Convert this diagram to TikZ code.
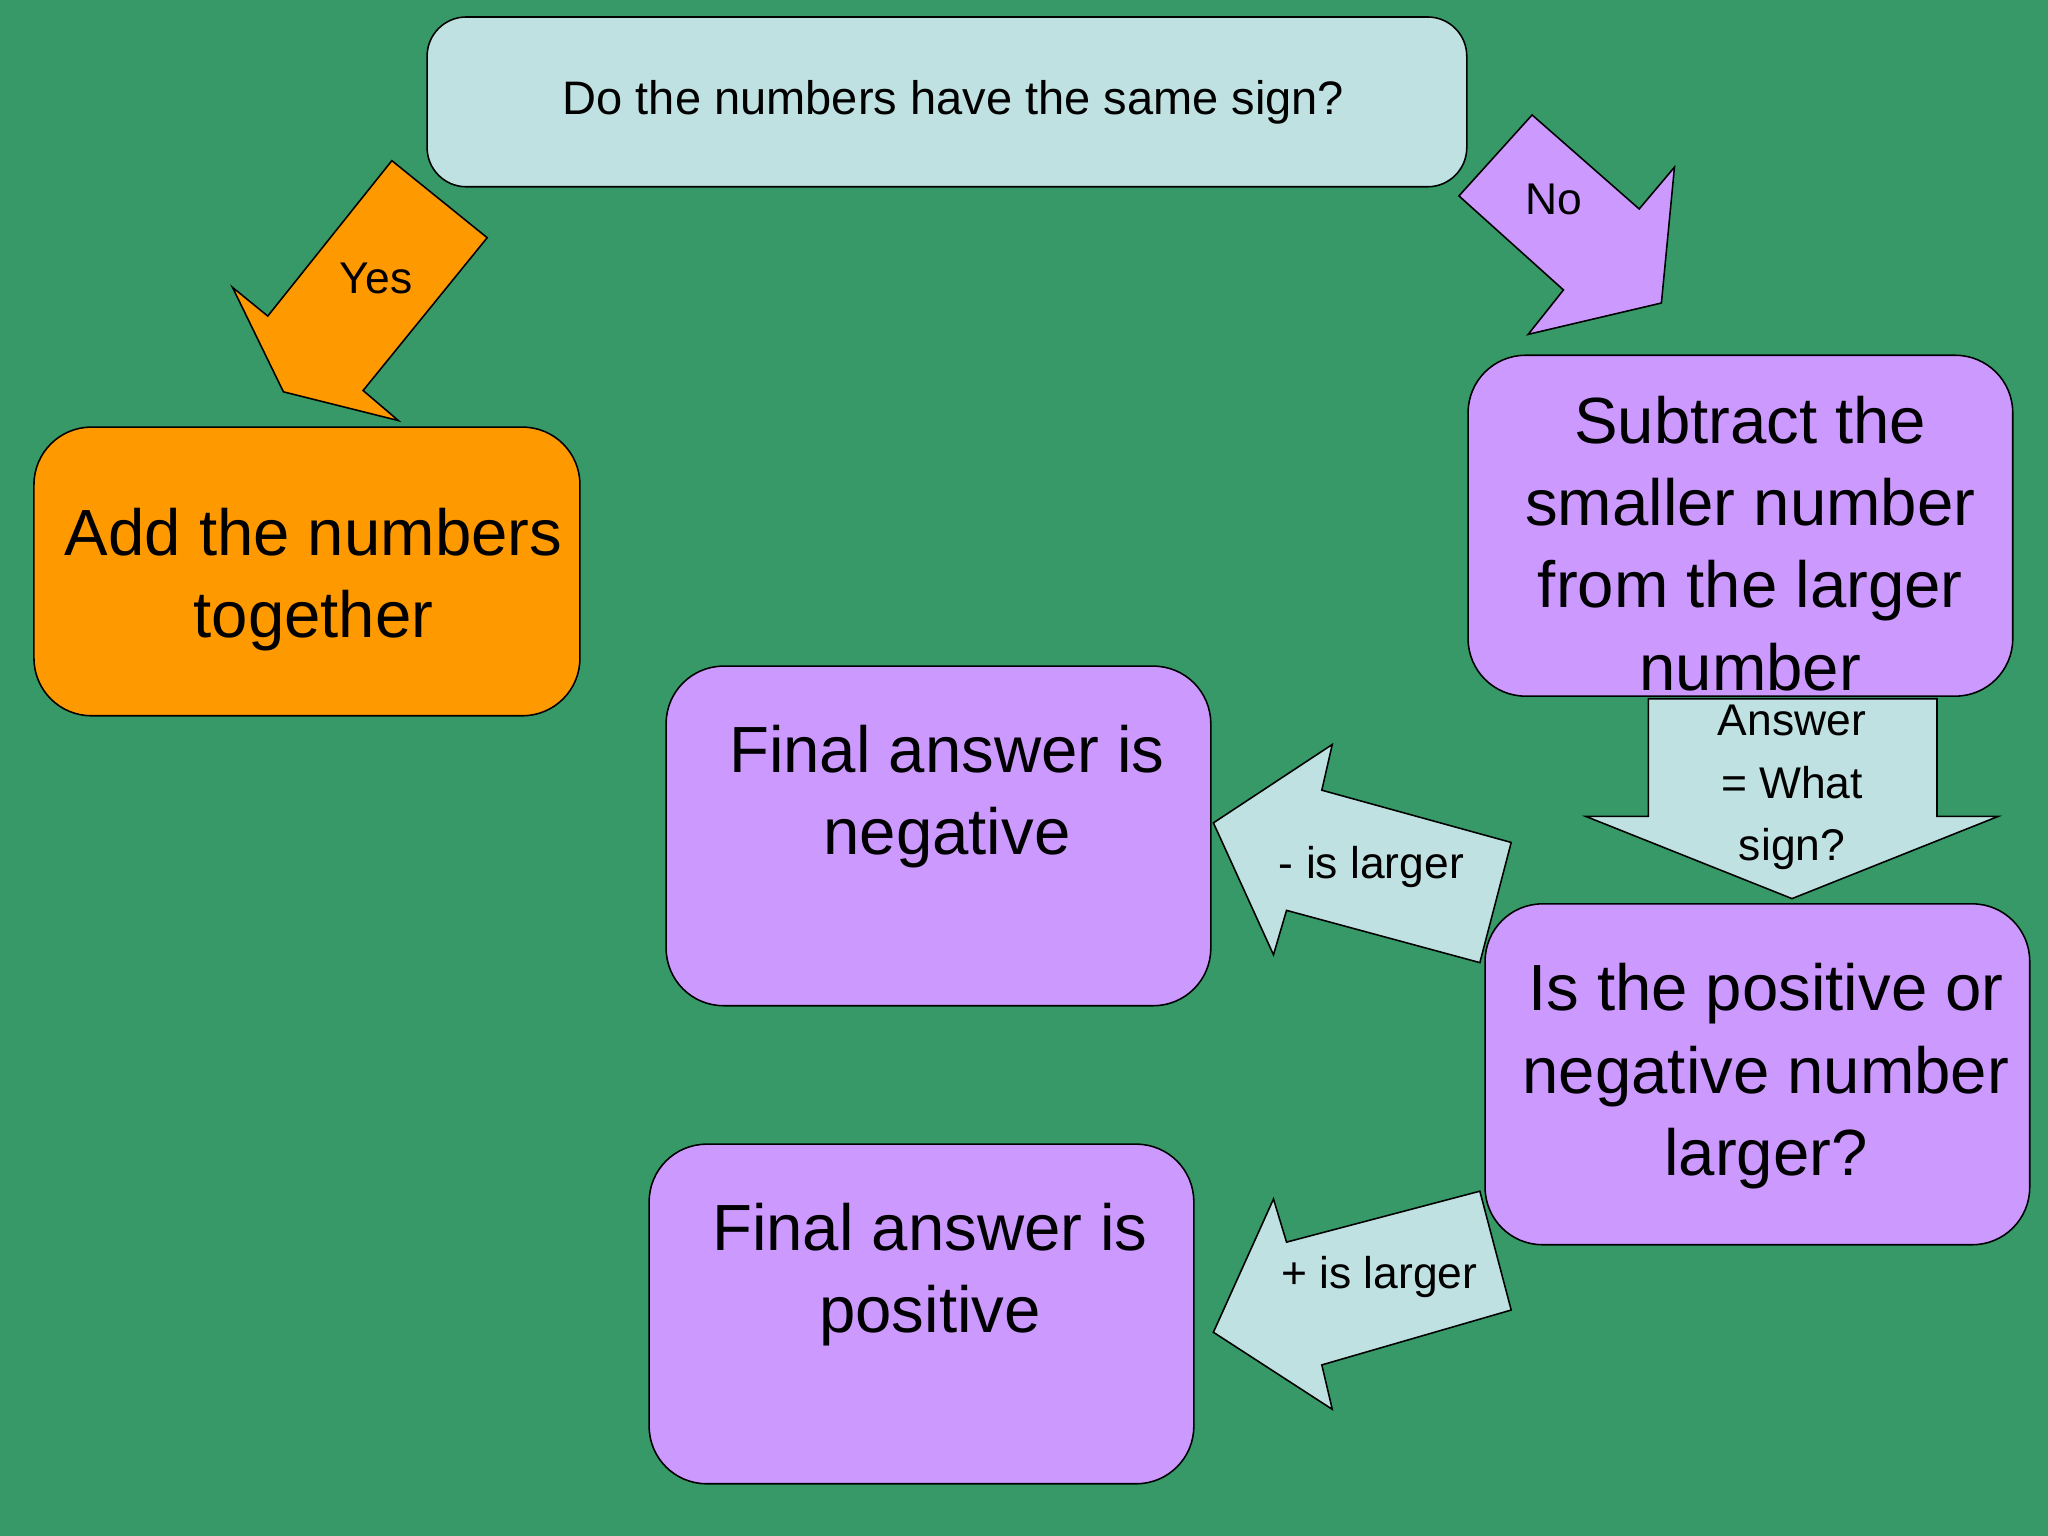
\documentclass[tikz,border=0pt]{standalone}
\usepackage{fontspec}
\setmainfont{Liberation Sans}
\definecolor{bg}{RGB}{55,153,104}
\definecolor{lb}{RGB}{192,225,226}
\definecolor{pu}{RGB}{204,153,255}
\definecolor{og}{RGB}{255,153,0}
\tikzset{box/.style={draw=black,line width=0.6pt,rounded corners=22pt},
 big/.style={font=\fontsize{25}{31.5}\selectfont,align=center},
 mid/.style={font=\fontsize{18}{22}\selectfont,align=center},
 sm/.style={font=\fontsize{17}{24}\selectfont,align=center},
 arr/.style={draw=black,line width=0.6pt,line join=miter}}
\begin{document}
\begin{tikzpicture}[x=0.5pt,y=-0.5pt]
\fill[bg] (0,0) rectangle (1568,1176);
\useasboundingbox (0,0) rectangle (1568,1176);
% top box
\draw[box,fill=lb,rounded corners=15pt] (327,13) rectangle (1123,143);
\node[mid] (q) at (730,78) {Do the numbers have the same sign?};
% arrows
\draw[arr,fill=og] (300,123)--(373,182)--(278,299)--(305,322)--(217,300)--(178,220)--(205,242)--cycle;
\node[mid,font=\fontsize{17}{20}\selectfont] (yes) at (288,213) {Yes};
\draw[arr,fill=pu] (1173,88)--(1117,150)--(1197,222)--(1170,256)--(1272,232)--(1282,128)--(1255,160)--cycle;
\node[mid,font=\fontsize{17}{20}\selectfont] (no) at (1190,153) {No};
% boxes
\draw[box,fill=og] (26,327) rectangle (444,548);
\node[big] (add) at (240,444) {Add the numbers\\together};
\draw[box,fill=pu] (1124,272) rectangle (1541,533);
\node[big] (sub) at (1340,416) {Subtract the\\smaller number\\from the larger\\number};
\draw[arr,fill=lb] (1262,535)--(1483,535)--(1483,625)--(1530,625)--(1372,688)--(1214,625)--(1262,625)--cycle;
\node[sm] (ans) at (1372,603) {Answer\\= What\\sign?};
\draw[box,fill=pu] (1137,692) rectangle (1554,953);
\node[big] (is) at (1352,824) {Is the positive or\\negative number\\larger?};
\draw[box,fill=pu] (510,510) rectangle (927,770);
\node[big] (neg) at (725,610) {Final answer is\\negative};
\draw[box,fill=pu] (497,876) rectangle (914,1136);
\node[big] (pos) at (712,976) {Final answer is\\positive};
\draw[arr,fill=lb] (1157,645)--(1133,737)--(985,697)--(975,731)--(929,630)--(1020,570)--(1012,605)--cycle;
\node[mid,font=\fontsize{17}{20}\selectfont] (ml) at (1050,664) {- is larger};
\draw[arr,fill=lb] (1133,912)--(1157,1003)--(1012,1045)--(1020,1079)--(929,1020)--(975,918)--(985,951)--cycle;
\node[mid,font=\fontsize{17}{20}\selectfont] (pl) at (1056,978) {+ is larger};
\end{tikzpicture}
\end{document}
